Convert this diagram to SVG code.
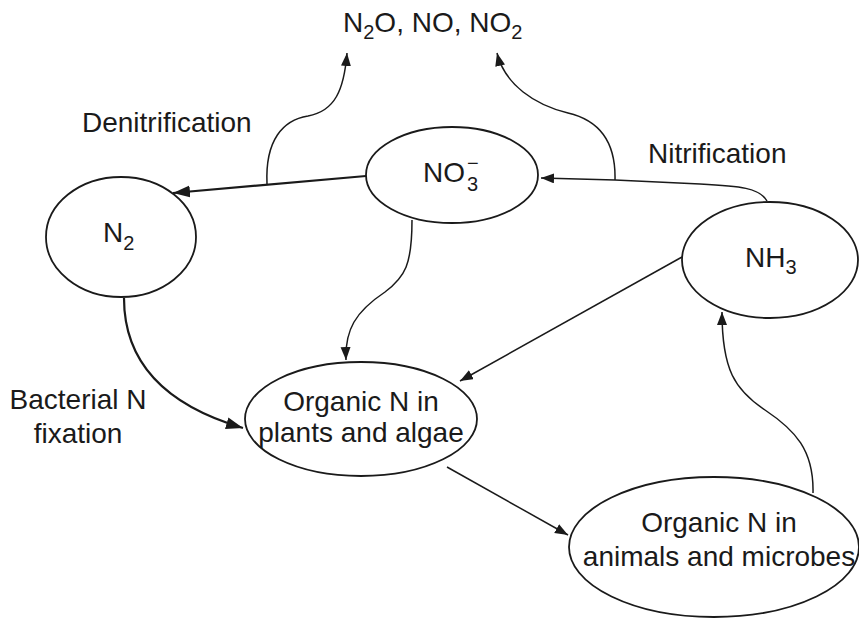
<svg xmlns="http://www.w3.org/2000/svg" width="859" height="619" viewBox="0 0 859 619">
<defs>
<marker id="ah" markerUnits="userSpaceOnUse" markerWidth="16" markerHeight="12" refX="13" refY="5" orient="auto">
<path d="M0,0 L13,5 L0,10 Z" fill="#1a1a1a"/>
</marker>
<marker id="ahb" markerUnits="userSpaceOnUse" markerWidth="20" markerHeight="14" refX="17" refY="6" orient="auto">
<path d="M0,0 L17,6 L0,12 Z" fill="#1a1a1a"/>
</marker>
</defs>
<style>
text{font-family:"Liberation Sans",Arial,sans-serif;font-size:28px;fill:#1a1a1a}
.sub{font-size:20px}
ellipse{fill:#fff;stroke:#1a1a1a;stroke-width:1.8}
.c{fill:none;stroke:#1a1a1a;stroke-width:1.5}
.t{fill:none;stroke:#1a1a1a;stroke-width:2.2}
</style>
<rect width="859" height="619" fill="#fff"/>
<g id="connectors">
<path class="t" d="M366,176 L173,193" marker-end="url(#ahb)"/>
<path class="c" d="M267,184 C265,140 283,120 308,116 C335,111 344,90 347,53" marker-end="url(#ah)"/>
<path class="c" d="M767,201 C760,188 740,186 700,184 L615,180 L541,178" marker-end="url(#ah)"/>
<path class="c" d="M615,180 C616,140 598,120 568,113 C535,105 505,85 497,53" marker-end="url(#ah)"/>
<path class="c" d="M412,220 C412,265 405,277 385,292 C355,312 345,330 346,360" marker-end="url(#ah)"/>
<path class="c" d="M682,257 L460,381" marker-end="url(#ah)"/>
<path class="t" d="M124,298 C124,370 175,408 243,428" marker-end="url(#ahb)"/>
<path class="c" d="M447,467 L568,535" marker-end="url(#ah)"/>
<path class="c" d="M813,493 C814,450 795,430 765,410 C735,390 722,370 722,312" marker-end="url(#ah)"/>
</g>
<g id="label-top"><text x="343" y="32">N<tspan class="sub" dy="7">2</tspan><tspan dy="-7">O, NO, NO</tspan><tspan class="sub" dy="7">2</tspan></text></g>
<g id="label-denitrification"><text x="82" y="132">Denitrification</text></g>
<g id="label-nitrification"><text x="648" y="163">Nitrification</text></g>
<g id="label-fixation"><text x="78" y="409" text-anchor="middle">Bacterial N</text><text x="78" y="443" text-anchor="middle">fixation</text></g>
<g id="node-n2"><ellipse cx="121" cy="237" rx="75" ry="60"/><text x="103" y="242">N<tspan class="sub" dy="8">2</tspan></text></g>
<g id="node-no3"><ellipse cx="452" cy="175" rx="86" ry="48"/><text x="423" y="182">NO</text><text class="sub" x="467" y="191">3</text><text class="sub" x="467" y="170">−</text></g>
<g id="node-nh3"><ellipse cx="770" cy="260" rx="88" ry="58"/><text x="745" y="267">NH<tspan class="sub" dy="7">3</tspan></text></g>
<g id="node-plants"><ellipse cx="361" cy="419" rx="116" ry="57"/><text x="361" y="411" text-anchor="middle">Organic N in</text><text x="361" y="442" text-anchor="middle">plants and algae</text></g>
<g id="node-animals"><ellipse cx="714" cy="547" rx="145" ry="70"/><text x="719" y="532" text-anchor="middle">Organic N in</text><text x="719" y="566" text-anchor="middle">animals and microbes</text></g>
</svg>
